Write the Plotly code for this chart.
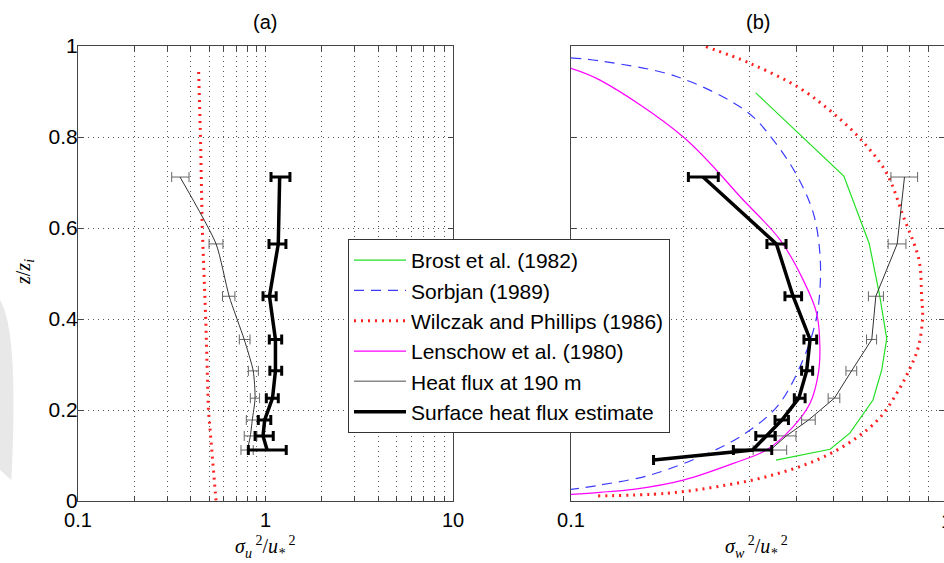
import plotly.graph_objects as go
import numpy as np

# ---------------- data ----------------
# heights (z/zi) of the measured profiles
z_meas = [0.712, 0.565, 0.45, 0.355, 0.286, 0.226, 0.178, 0.143, 0.112]

# panel (a): sigma_u^2/u*^2
surf_a = [1.19, 1.17, 1.05, 1.13, 1.13, 1.09, 0.99, 0.97, 1.02]
surf_a_lo = [1.07, 1.044, 0.97, 1.048, 1.055, 1.01, 0.915, 0.88, 0.81]
surf_a_hi = [1.35, 1.285, 1.14, 1.22, 1.22, 1.17, 1.067, 1.10, 1.29]

heat_a = [0.35, 0.545, 0.64, 0.77, 0.86, 0.88, 0.85, 0.83, 0.80]
heat_a_lo = [0.316, 0.50, 0.59, 0.725, 0.81, 0.83, 0.79, 0.77, 0.74]
heat_a_hi = [0.391, 0.593, 0.687, 0.827, 0.916, 0.93, 0.915, 0.90, 0.86]

wp_a_z = [0.943, 0.8, 0.6, 0.4, 0.2, 0.0]
wp_a_x = [0.44, 0.45, 0.46, 0.48, 0.496, 0.545]

# panel (b): sigma_w^2/u*^2
z_surf_b = [0.712, 0.565, 0.45, 0.355, 0.286, 0.226, 0.178, 0.143, 0.112, 0.090]
surf_b = [0.225, 0.353, 0.391, 0.434, 0.425, 0.405, 0.365, 0.331, 0.305, 0.166]
surf_b_lo = [0.2056, 0.333, 0.372, 0.418, 0.412, 0.394, 0.35, 0.311, 0.271, None]
surf_b_hi = [0.247, 0.3745, 0.412, 0.452, 0.441, 0.421, 0.38, 0.35, 0.343, None]

heat_b = [0.775, 0.741, 0.650, 0.634, 0.560, 0.504, 0.430, 0.375, 0.34]
heat_b_lo = [0.713, 0.701, 0.621, 0.614, 0.541, 0.485, 0.412, 0.353, 0.306]
heat_b_hi = [0.84, 0.782, 0.681, 0.653, 0.578, 0.521, 0.448, 0.398, 0.376]

brost_z = [0.897, 0.714, 0.566, 0.456, 0.357, 0.288, 0.222, 0.196, 0.149, 0.1136, 0.090]
brost_x = [0.311, 0.534, 0.624, 0.664, 0.695, 0.674, 0.6386, 0.608, 0.554, 0.491, 0.352]

sorb_z = [0.974, 0.967, 0.933, 0.856, 0.793, 0.716, 0.632, 0.544, 0.464, 0.39, 0.295, 0.207, 0.141, 0.0974, 0.057, 0.035, 0.0256]
sorb_x = [0.1, 0.1195, 0.191, 0.294, 0.3464, 0.4, 0.443, 0.461, 0.461, 0.448, 0.408, 0.354, 0.282, 0.221, 0.1625, 0.1195, 0.1]

lens_z = [0.951, 0.925, 0.8, 0.6615, 0.574, 0.486, 0.4125, 0.339, 0.28, 0.2147, 0.163, 0.112, 0.0828, 0.046, 0.0256, 0.019, 0.0147]
lens_x = [0.1, 0.1195, 0.1993, 0.288, 0.361, 0.416, 0.452, 0.461, 0.4565, 0.434, 0.391, 0.332, 0.271, 0.1993, 0.1466, 0.1195, 0.1]

wp_b_z = [0.9985, 0.962, 0.907, 0.852, 0.79, 0.72, 0.625, 0.53, 0.449, 0.4015, 0.339, 0.2916, 0.2367, 0.1817, 0.134, 0.09, 0.0534, 0.0314, 0.0169, 0.011]
wp_b_x = [0.229, 0.30, 0.408, 0.5006, 0.60, 0.695, 0.77, 0.847, 0.861, 0.866, 0.844, 0.8017, 0.739, 0.664, 0.566, 0.452, 0.332, 0.2446, 0.18, 0.1147]

xtick_vals_a = [0.1, 0.2, 0.3, 0.4, 0.5, 0.6, 0.7, 0.8, 0.9, 1, 2, 3, 4, 5, 6, 7, 8, 9, 10]
xtick_text_a = ["0.1", "", "", "", "", "", "", "", "", "1", "", "", "", "", "", "", "", "", "10"]
xtick_vals_b = [0.1, 0.2, 0.3, 0.4, 0.5, 0.6, 0.7, 0.8, 0.9]
xtick_text_b = ["0.1", "", "", "", "", "", "", "", ""]
ytick_vals = [0, 0.2, 0.4, 0.6, 0.8, 1]
ytick_text = ["0", "0.2", "0.4", "0.6", "0.8", "1"]

legend_names = ["Brost et al. (1982)", "Sorbjan (1989)", "Wilczak and Phillips (1986)",
                "Lenschow et al. (1980)", "Heat flux at 190 m", "Surface heat flux estimate"]

# ---------------- styles ----------------
GREEN = "#22e022"
BLUE = "#3a3aff"
RED = "#ff2020"
MAGENTA = "#ff00ff"
W, H = 944, 563


def err(x, lo, hi):
    plus = [None if h is None else h - v for v, h in zip(x, hi)]
    minus = [None if l is None else v - l for v, l in zip(x, lo)]
    return plus, minus


fig = go.Figure()

# ---- panel (a) ----
fig.add_trace(go.Scatter(x=wp_a_x, y=wp_a_z, mode="lines", xaxis="x", yaxis="y",
                         line=dict(color=RED, width=3, dash="2px,5px"), showlegend=False))
p, m = err(heat_a, heat_a_lo, heat_a_hi)
fig.add_trace(go.Scatter(x=heat_a, y=z_meas, mode="lines", xaxis="x", yaxis="y",
                         line=dict(color="#333333", width=1, shape="spline", smoothing=0.6),
                         error_x=dict(type="data", symmetric=False, array=p, arrayminus=m,
                                      color="#666666", thickness=1, width=5),
                         showlegend=False))
p, m = err(surf_a, surf_a_lo, surf_a_hi)
fig.add_trace(go.Scatter(x=surf_a, y=z_meas, mode="lines", xaxis="x", yaxis="y",
                         line=dict(color="black", width=3.5),
                         error_x=dict(type="data", symmetric=False, array=p, arrayminus=m,
                                      color="black", thickness=3, width=5),
                         showlegend=False))

# ---- panel (b) ----
fig.add_trace(go.Scatter(x=brost_x, y=brost_z, mode="lines", xaxis="x2", yaxis="y2",
                         line=dict(color=GREEN, width=1.2), showlegend=False))
fig.add_trace(go.Scatter(x=sorb_x, y=sorb_z, mode="lines", xaxis="x2", yaxis="y2",
                         line=dict(color=BLUE, width=1.2, dash="10px,7px", shape="spline"),
                         showlegend=False))
fig.add_trace(go.Scatter(x=wp_b_x, y=wp_b_z, mode="lines", xaxis="x2", yaxis="y2",
                         line=dict(color=RED, width=3, dash="2px,5px", shape="spline"),
                         showlegend=False))
fig.add_trace(go.Scatter(x=lens_x, y=lens_z, mode="lines", xaxis="x2", yaxis="y2",
                         line=dict(color=MAGENTA, width=1.2, shape="spline"), showlegend=False))
p, m = err(heat_b, heat_b_lo, heat_b_hi)
fig.add_trace(go.Scatter(x=heat_b, y=z_meas, mode="lines", xaxis="x2", yaxis="y2",
                         line=dict(color="#333333", width=1),
                         error_x=dict(type="data", symmetric=False, array=p, arrayminus=m,
                                      color="#666666", thickness=1, width=5),
                         showlegend=False))
p, m = err(surf_b, surf_b_lo, surf_b_hi)
fig.add_trace(go.Scatter(x=surf_b, y=z_surf_b, mode="lines", xaxis="x2", yaxis="y2",
                         line=dict(color="black", width=3.5),
                         error_x=dict(type="data", symmetric=False, array=p, arrayminus=m,
                                      color="black", thickness=3, width=5),
                         showlegend=False))

# ---- legend entries ----
legend_styles = [
    dict(color=GREEN, width=1.2),
    dict(color=BLUE, width=1.2, dash="10px,7px"),
    dict(color=RED, width=3, dash="2px,5px"),
    dict(color=MAGENTA, width=1.2),
    dict(color="#888888", width=1.5),
    dict(color="black", width=3.5),
]
for name, st in zip(legend_names, legend_styles):
    fig.add_trace(go.Scatter(x=[None], y=[None], mode="lines", name=name, line=st,
                             xaxis="x", yaxis="y", showlegend=True))

# ---------------- layout ----------------
y0 = (H - 501) / H
y1 = (H - 46) / H
axis_common = dict(showline=True, linecolor="#444444", linewidth=1, mirror="ticks",
                   ticks="inside", ticklen=5, tickcolor="#444444",
                   showgrid=True, gridcolor="#555555", griddash="1px,4px", gridwidth=1,
                   zeroline=False, automargin=False,
                   tickfont=dict(family="Liberation Sans", size=20, color="black"))

b_end = -1 + (944 - 571) / 375.0

fig.update_layout(
    width=W, height=H,
    margin=dict(l=0, r=0, t=0, b=0, autoexpand=False),
    paper_bgcolor="white", plot_bgcolor="white",
    showlegend=True,
    legend=dict(x=348 / W, y=(H - 239) / H, xanchor="left", yanchor="top",
                bgcolor="white", bordercolor="#333333", borderwidth=1,
                font=dict(family="Liberation Sans", size=21, color="black"),
                itemwidth=52, tracegroupgap=0),
    xaxis=dict(axis_common, type="log", range=[-1, 1], domain=[78 / W, 453 / W],
               tickvals=xtick_vals_a, ticktext=xtick_text_a, anchor="y", ticklabelstandoff=1),
    yaxis=dict(axis_common, range=[0, 1], domain=[y0, y1], tickvals=ytick_vals,
               ticktext=ytick_text, anchor="x", ticklabelstandoff=-5,
               tickfont=dict(family="Liberation Sans", size=21, color="black")),
    xaxis2=dict(axis_common, type="log", range=[-1, b_end], domain=[571 / W, 1.0],
                tickvals=xtick_vals_b, ticktext=xtick_text_b, anchor="y2", ticklabelstandoff=1),
    yaxis2=dict(axis_common, range=[0, 1], domain=[y0, y1], tickvals=ytick_vals,
                showticklabels=False, anchor="x2"),
)

serif = dict(family="Liberation Serif", size=20, color="black")
ann = [
    dict(text="(a)", x=265, y=22, font=dict(family="Liberation Sans", size=20, color="black")),
    dict(text="(b)", x=758, y=22, font=dict(family="Liberation Sans", size=20, color="black")),
    dict(text="<i>σ<sub>u</sub></i><sup> 2</sup>/<i>u<sub>*</sub></i><sup> 2</sup>", x=265, y=547, font=serif),
    dict(text="<i>σ<sub>w</sub></i><sup> 2</sup>/<i>u<sub>*</sub></i><sup> 2</sup>", x=756, y=547, font=serif),
    dict(text="<i>z</i>/<i>z<sub>i</sub></i>", x=24, y=272, font=serif, textangle=-90),
    dict(text="1", x=947, y=521, font=dict(family="Liberation Sans", size=20, color="black")),
]
for a in ann:
    a2 = dict(a)
    a2["x"] = a["x"] / W
    a2["y"] = (H - a["y"]) / H
    fig.add_annotation(xref="paper", yref="paper", showarrow=False,
                       xanchor="center", yanchor="middle", **a2)

# faint grey watermark fragment on the left edge
fig.add_shape(type="path", xref="paper", yref="paper",
              path="M 0 %f Q 0.02 %f 0.012 %f L 0.0 %f Z" % ((H - 300) / H, (H - 330) / H, (H - 480) / H, (H - 470) / H),
              fillcolor="#e8e8e8", line=dict(width=0), layer="below")

fig.write_html("out.html", config={"displayModeBar": False},
               post_script="document.body.style.margin='0';document.body.style.overflow='hidden';")
